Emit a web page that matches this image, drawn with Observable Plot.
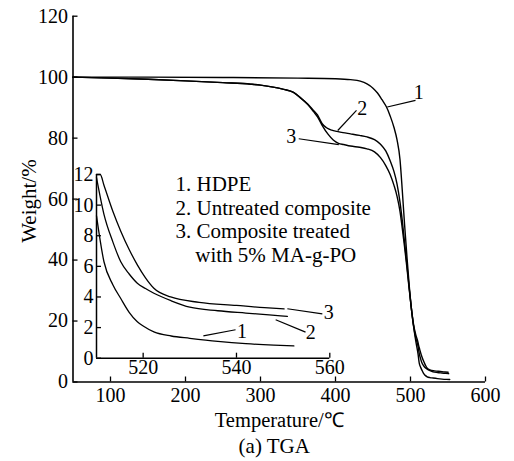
<!DOCTYPE html>
<html><head><meta charset="utf-8">
<script src="https://cdn.jsdelivr.net/npm/d3@7"></script>
<script src="https://cdn.jsdelivr.net/npm/@observablehq/plot@0.6"></script>
<style>
html,body{margin:0;padding:0;background:#fff;}
#chart{position:relative;width:514px;height:461px;}
#chart svg{position:absolute;left:0;top:0;}
</style></head><body><div id="chart"></div>
<script>
// ---- data ----
const xTicks = [100, 200, 300, 400, 500, 600];
const yTicks = [0, 20, 40, 60, 80, 100, 120];
const insetXTicks = [520, 540, 560];
const insetYTicks = [0, 2, 4, 6, 8, 10, 12];

// 1. HDPE
const tHDPE = [50, 150, 250, 350, 400, 420, 433, 442, 450, 456, 462, 468, 473, 478, 482, 486, 489, 492, 495, 498, 501, 504, 507, 510, 511.6, 513.5, 515.2, 517, 518.75, 520, 522.3, 526, 530, 536, 542, 548, 552.3];
const wHDPE = [100, 100, 99.9, 99.7, 99.5, 99.2, 98.7, 97.8, 96.4, 94.8, 92.6, 90.2, 87.2, 83.5, 79.5, 73, 63, 52, 42, 32.5, 24.5, 18.5, 13.5, 9.3, 6.3, 4.8, 3.9, 3.0, 2.38, 2.1, 1.72, 1.45, 1.3, 1.1, 0.95, 0.85, 0.8];
// 2. Untreated composite
const tUntreated = [50, 100, 150, 200, 250, 287, 300, 331, 344, 353, 363, 371, 376, 382, 388, 395, 402, 410, 420, 432, 442, 452, 460, 467, 473, 478, 482, 486, 489, 492, 495, 498, 501, 504, 507, 510, 511.6, 513.5, 515.2, 517, 518.75, 520.5, 522.3, 526, 530, 536, 542, 547, 550.9];
const wUntreated = [100, 99.7, 99.3, 98.8, 98.2, 97.7, 97.4, 96.0, 95.0, 93.3, 91.2, 89.0, 87.6, 84.8, 83.4, 82.6, 82.2, 81.8, 81.4, 80.9, 80.4, 79.5, 78, 75.8, 72.5, 69, 65, 59, 53, 46, 39, 31.5, 24.5, 18.5, 14.5, 11.8, 9.4, 7.6, 6.3, 5.5, 4.9, 4.55, 4.24, 3.75, 3.33, 3.1, 2.95, 2.83, 2.73];
// 3. Composite treated with 5% MA-g-PO
const tTreated = [50, 100, 150, 200, 250, 287, 300, 331, 344, 353, 363, 371, 376, 382, 390, 397, 404, 411, 420, 432, 442, 452, 460, 467, 473, 478, 482, 486, 489, 492, 495, 498, 501, 504, 507, 510, 510.8, 511.6, 513.5, 515.2, 517, 518.75, 520.5, 522.3, 525.9, 532, 540, 546, 550.2];
const wTreated = [100, 99.7, 99.3, 98.8, 98.2, 97.7, 97.4, 96.0, 95.0, 93.3, 91.0, 88.6, 87.0, 84.3, 81.3, 79.4, 78.3, 77.9, 77.4, 77.0, 76.5, 75.5, 73.6, 71, 68, 64.5, 61, 56, 50.5, 44.5, 38, 31, 24.5, 19, 15.5, 13, 12, 11.3, 9.6, 8.3, 7.1, 6.1, 5.25, 4.57, 4.0, 3.65, 3.45, 3.3, 3.22];

const legendLines = ["1. HDPE", "2. Untreated composite", "3. Composite treated", "with 5% MA-g-PO"];
const legendT = [186.7, 186.7, 186.7, 213];
const legendW = [64.9, 56.9, 49.3, 41.6];

// curve number labels, main plot
const mainLabels = ["1", "2", "3"];
const mainLabelT = [511, 435.6, 341];
const mainLabelW = [94.8, 89.6, 80.4];
const mainLeadT1 = [469, 403, 351];
const mainLeadW1 = [90.2, 82.5, 79.8];
const mainLeadT2 = [506.7, 428, 404.4];
const mainLeadW2 = [92.4, 89.1, 77.9];

// curve number labels, inset
const insetLabels = ["1", "2", "3"];
const insetLabelT = [541.2, 555.9, 559.8];
const insetLabelW = [1.76, 1.65, 2.95];
const insetLeadT1 = [532.9, 548.4, 550.9];
const insetLeadW1 = [1.46, 2.51, 3.23];
const insetLeadT2 = [539.8, 554.8, 558.4];
const insetLeadW2 = [1.86, 1.7, 2.9];

// ---- build tables ----
const rows = (T, W) => T.map((t, i) => ({t, w: W[i]}));
const series = [rows(tHDPE, wHDPE), rows(tUntreated, wUntreated), rows(tTreated, wTreated)];
const legend = legendLines.map((s, i) => ({s, t: legendT[i], w: legendW[i]}));
const mLab = mainLabels.map((s, i) => ({s, t: mainLabelT[i], w: mainLabelW[i], t1: mainLeadT1[i], w1: mainLeadW1[i], t2: mainLeadT2[i], w2: mainLeadW2[i]}));
const iLab = insetLabels.map((s, i) => ({s, t: insetLabelT[i], w: insetLabelW[i], t1: insetLeadT1[i], w1: insetLeadW1[i], t2: insetLeadT2[i], w2: insetLeadW2[i]}));

const font = "'Liberation Serif', 'Times New Roman', Times, serif";
const W = 514, H = 461;

const main = Plot.plot({
  width: W, height: H,
  marginLeft: 72.5, marginRight: 29, marginTop: 15.7, marginBottom: 79.5,
  style: {fontFamily: font, fontSize: "20px", background: "white", color: "black"},
  x: {domain: [50, 600], label: null},
  y: {domain: [0, 120], label: null},
  marks: [
    Plot.axisX({ticks: xTicks, tickSize: -5, tickPadding: 11, label: null, strokeWidth: 1.3}),
    Plot.axisY({ticks: yTicks, tickSize: -5, tickPadding: 10, label: null, strokeWidth: 1.3}),
    Plot.ruleY([0], {stroke: "black", strokeWidth: 1.6}),
    Plot.ruleX([50], {stroke: "black", strokeWidth: 1.6}),
    ...series.map(d => Plot.line(d, {x: "t", y: "w", stroke: "black", strokeWidth: 1.4, curve: "monotone-x"})),
    Plot.link(mLab, {x1: "t1", y1: "w1", x2: "t2", y2: "w2", stroke: "black", strokeWidth: 1.2}),
    Plot.text(mLab, {x: "t", y: "w", text: "s", fill: "black"}),
    Plot.text(legend, {x: "t", y: "w", text: "s", textAnchor: "start", fill: "black", fontSize: 21}),
    Plot.text(["Weight/%"], {frameAnchor: "left", textAnchor: "middle", lineAnchor: "middle", rotate: -90, dx: -44, dy: 2, fill: "black", fontSize: 21}),
    Plot.text(["Temperature/℃"], {frameAnchor: "bottom", textAnchor: "middle", lineAnchor: "middle", dy: 38.8, fill: "black", fontSize: 20.5}),
    Plot.text(["(a) TGA"], {frameAnchor: "bottom", textAnchor: "middle", lineAnchor: "middle", dy: 63.8, dx: -5, fill: "black", fontSize: 21})
  ]
});

const inset = Plot.plot({
  width: W, height: H,
  marginLeft: 96, marginRight: W - 329.3, marginTop: 174, marginBottom: H - 357.7,
  style: {fontFamily: font, fontSize: "20px", background: "transparent", color: "black", overflow: "visible"},
  x: {domain: [510, 560], label: null},
  y: {domain: [0, 12], label: null, clamp: true},
  marks: [
    Plot.axisX({ticks: insetXTicks, tickSize: -5, tickPadding: 6.5, label: null, strokeWidth: 1.3}),
    Plot.axisY({ticks: insetYTicks, tickSize: -5, tickPadding: 8, label: null, strokeWidth: 1.3}),
    Plot.ruleY([0], {stroke: "black", strokeWidth: 1.5}),
    Plot.ruleX([510], {stroke: "black", strokeWidth: 1.5}),
    ...series.map(d => Plot.line(d.filter(p => p.t >= 510), {x: "t", y: "w", stroke: "black", strokeWidth: 1.3, curve: "monotone-x"})),
    Plot.link(iLab, {x1: "t1", y1: "w1", x2: "t2", y2: "w2", stroke: "black", strokeWidth: 1.2}),
    Plot.text(iLab, {x: "t", y: "w", text: "s", fill: "black"})
  ]
});

const el = document.getElementById("chart");
el.appendChild(main);
el.appendChild(inset);
</script></body></html>
